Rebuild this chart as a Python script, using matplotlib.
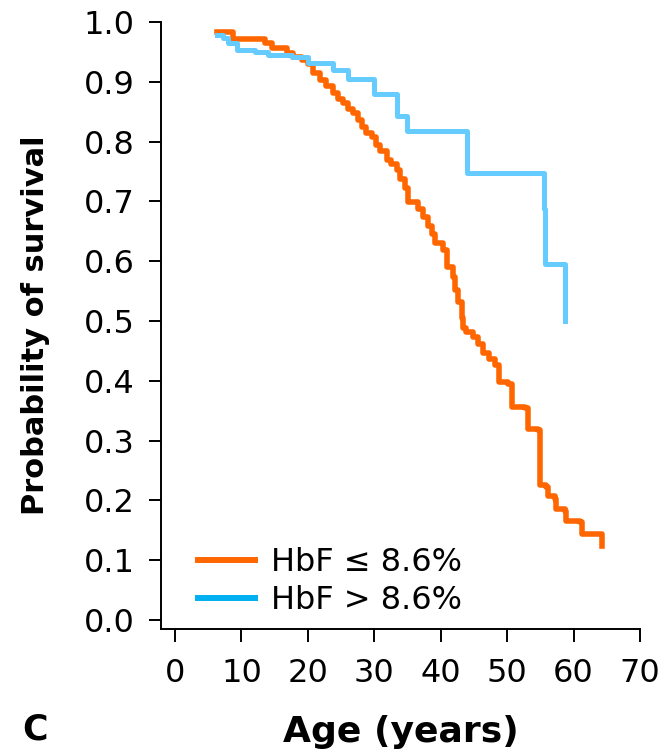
import matplotlib
matplotlib.use('Agg')
import matplotlib.pyplot as plt
from matplotlib.lines import Line2D
import numpy as np

# Kaplan-Meier estimates (age at step, survival after step)
low_age = [6.3, 8.8, 13.5, 14.6, 16.8, 17.8, 19.1, 20.0, 20.8, 21.8, 22.7, 23.8,
           24.5, 25.3, 26.0, 26.8, 27.5, 28.1, 28.8, 29.6, 30.3, 30.9, 31.9, 32.5,
           33.4, 33.9, 34.6, 35.1, 36.6, 37.4, 38.1, 38.7, 39.1, 40.4, 40.9, 41.9,
           42.2, 42.6, 43.2, 43.4, 43.8, 44.9, 45.6, 46.4, 47.3, 48.2, 48.7, 50.2,
           50.7, 52.7, 53.2, 54.7, 54.9, 55.0, 55.9, 56.2, 57.2, 57.4, 58.7, 58.9,
           60.9, 61.2, 64.3]
low_surv = [0.983, 0.971, 0.964, 0.957, 0.948, 0.942, 0.937, 0.930, 0.914, 0.903,
            0.893, 0.881, 0.872, 0.864, 0.855, 0.847, 0.836, 0.825, 0.815, 0.808,
            0.795, 0.784, 0.769, 0.762, 0.753, 0.737, 0.722, 0.699, 0.688, 0.674,
            0.658, 0.645, 0.630, 0.619, 0.591, 0.574, 0.552, 0.532, 0.505, 0.488,
            0.482, 0.474, 0.462, 0.446, 0.437, 0.426, 0.398, 0.394, 0.357, 0.354,
            0.320, 0.317, 0.287, 0.226, 0.222, 0.208, 0.202, 0.186, 0.183, 0.166,
            0.164, 0.144, 0.123]

high_age = [6.3, 7.2, 8.0, 9.3, 12.0, 14.0, 17.6, 20.0, 23.8, 26.1, 29.9, 33.4,
            35.0, 44.0, 55.55, 55.65, 58.7]
high_surv = [0.979, 0.973, 0.964, 0.953, 0.950, 0.945, 0.942, 0.932, 0.920, 0.904,
             0.879, 0.843, 0.817, 0.747, 0.688, 0.596, 0.500]

labels = ['HbF \u2264 8.6%', 'HbF > 8.6%']
line_colors = ['#FF6600', '#66CCFF']
legend_colors = ['#FF6600', '#00B0F0']

x_ticks = np.arange(0, 71, 10)
y_ticks = np.arange(0, 1.01, 0.1)

fig = plt.figure(figsize=(6.72, 7.52), dpi=100)
ax = fig.add_axes([0.2396, 0.1636, 0.7128, 0.8072])

ax.step(low_age, low_surv, where='post', color=line_colors[0], lw=4.0)
ax.step(high_age, high_surv, where='post', color=line_colors[1], lw=3.6)

ax.set_xlim(-2.1, 70)
ax.set_ylim(-0.015, 1.0)
ax.set_xticks(x_ticks)
ax.set_yticks(y_ticks)
ax.set_yticklabels(['%.1f' % v for v in y_ticks])

for s in ['top', 'right']:
    ax.spines[s].set_visible(False)
for s in ['left', 'bottom']:
    ax.spines[s].set_linewidth(1.4)
ax.tick_params(axis='both', direction='out', length=9, width=1.4, labelsize=23)
ax.tick_params(axis='x', pad=12)
ax.tick_params(axis='y', pad=10)

ax.set_ylabel('Probability of survival', fontsize=22, fontweight='bold')
ax.yaxis.set_label_coords(-0.232, 0.5)
ax.set_xlabel('Age (years)', fontsize=26, fontweight='bold', va='center')
ax.xaxis.set_label_coords(0.5, -0.17)

fig.text(22 / 672, 22 / 752, 'C', fontsize=25, fontweight='bold', ha='left', va='center')

handles = [Line2D([], [], color=c, lw=4.3) for c in legend_colors]
ax.legend(handles, labels, loc='upper left', bbox_to_anchor=(0.077, 0.135),
          frameon=False, fontsize=23, handlelength=1.8, handletextpad=0.5,
          labelspacing=0.22, borderpad=0, borderaxespad=0)

fig.savefig('out.png', dpi=100)
